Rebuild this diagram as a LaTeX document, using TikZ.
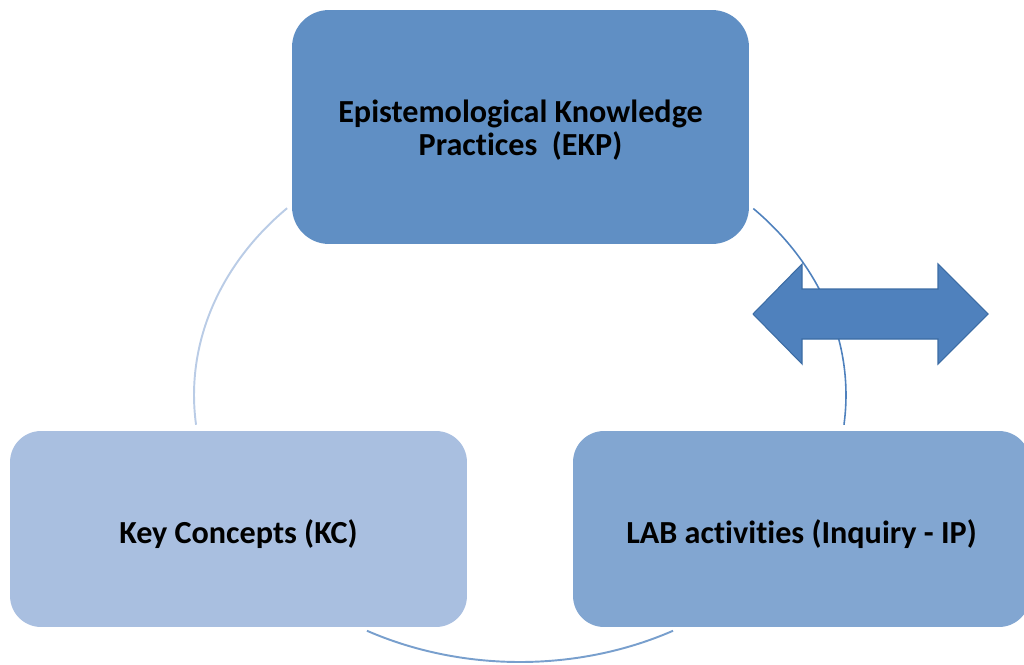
\documentclass[tikz,border=0pt]{standalone}
\usepackage{fontspec}
\setmainfont{Carlito}[Ligatures=NoCommon]

\definecolor{ekpfill}{HTML}{608FC4}
\definecolor{kcfill}{HTML}{A9BFE0}
\definecolor{ipfill}{HTML}{82A6D1}
\definecolor{arrfill}{HTML}{4F81BD}
\definecolor{arrline}{HTML}{3C6CA4}

\tikzset{
	phase/.style={rectangle, rounded corners=0.62cm, minimum width=9.14cm,
		minimum height=3.92cm, align=center, inner sep=0pt,
		text height=20.5pt, text depth=3.7pt,
		font=\fontsize{18.3}{18.8}\selectfont\bfseries},
	cyc/.style={line width=1.1pt},
}

\begin{document}
\begin{tikzpicture}[x=0.02cm,y=0.02cm]
%
	\useasboundingbox (0,0) rectangle (1024,664);
	\clip (0,0) rectangle (1024,664);
%
	% cycle arcs behind the boxes
	\draw[cyc, color=kcfill!80!white] (520,269) ++(135.6:326 and 267) arc[start angle=135.6, end angle=186.4, x radius=326, y radius=267];
	\draw[cyc, color=ipfill!80!arrfill] (520,269) ++(242:326 and 267) arc[start angle=242, end angle=298, x radius=326, y radius=267];
	\draw[cyc, line width=0.9pt, color=arrfill] (520,269) ++(44.3:326 and 267) arc[start angle=44.3, end angle=-6.4, x radius=326, y radius=267];
%
	\node[phase, fill=ekpfill, minimum height=4.68cm, rounded corners=0.74cm, text height=36.7pt] (ekp) at (520.5,537) {Epistemological Knowledge\\Practices\ \ (EKP)};
	\node[phase, fill=kcfill] (kc) at (238.5,135) {Key Concepts (KC)};
	\node[phase, fill=ipfill] (ip) at (801.5,135) {LAB activities (Inquiry - IP)};
%
	% two-headed block arrow
	\draw[fill=arrfill, draw=arrline, line width=0.6pt] (753,350) -- (802,400) -- (802,375) -- (938,375)
		-- (938,400) -- (988,350) -- (938,300) -- (938,325) -- (802,325) -- (802,300) -- cycle;
\end{tikzpicture}
\end{document}
